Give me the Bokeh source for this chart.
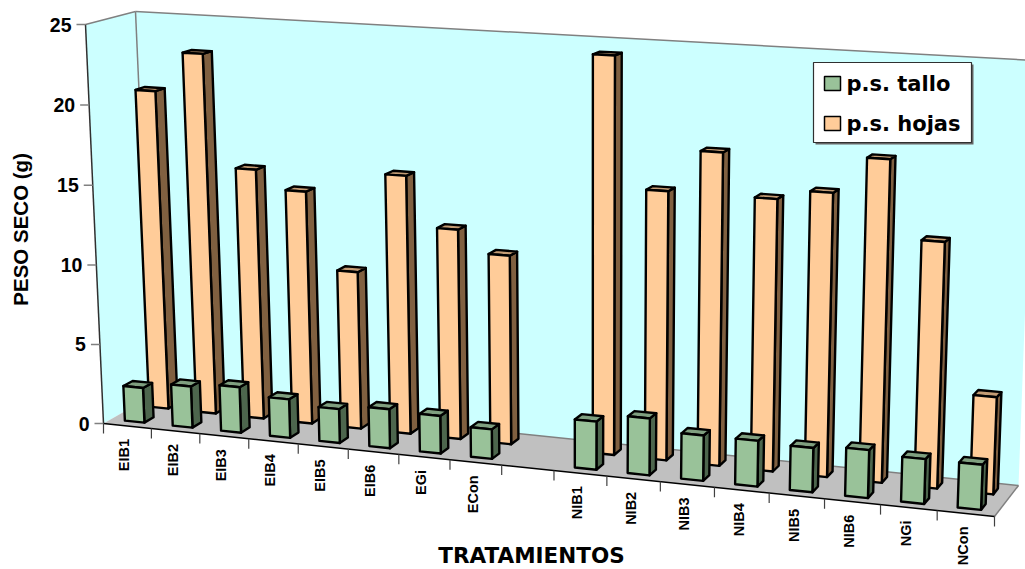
from bokeh.plotting import figure
from bokeh.models import Range1d, ColumnDataSource
from bokeh.core.properties import value
from bokeh.embed import file_html
from bokeh.resources import INLINE

categories = ["EIB1","EIB2","EIB3","EIB4","EIB5","EIB6","EGi","ECon","",
              "NIB1","NIB2","NIB3","NIB4","NIB5","NIB6","NGi","NCon"]
tallo = [2.2,2.6,2.85,2.4,2.1,2.4,2.3,1.8,None,2.9,3.4,2.7,2.7,2.6,2.8,2.6,2.6]
hojas = [20.35,22.9,15.8,14.65,9.85,16.1,13.0,11.65,None,24.25,16.3,18.85,16.3,16.9,19.1,14.5,5.7]
y_ticks = [0,5,10,15,20,25]
series_names = ["p.s. tallo","p.s. hojas"]

# projection of the 3-D box on the screen
FBL,FBR,BBL,BBR = (103,423),(994,516),(152,395),(1018,485)
FTL,FTR,BTL,BTR = (85,24),(1010,74),(135,11),(1034,60)
HX, HZ = 0.909, 0.988
N = len(categories); VMAX = 25.0
def proj(c, depth, v):
    t = c/N; t = t*HX/((1-t)+t*HX)
    z = v/VMAX; z = z*HZ/((1-z)+z*HZ)
    out=[]
    for i in (0,1):
        fb = FBL[i]+(FBR[i]-FBL[i])*t; bb = BBL[i]+(BBR[i]-BBL[i])*t
        ft = FTL[i]+(FTR[i]-FTL[i])*t; bt = BTL[i]+(BTR[i]-BTL[i])*t
        b = fb+(bb-fb)*depth; u = ft+(bt-ft)*depth
        out.append(b+(u-b)*z)
    return tuple(out)

p = figure(width=1025, height=569, x_range=Range1d(0,1025), y_range=Range1d(569,0),
           output_backend="svg", toolbar_location=None, min_border=0,
           outline_line_color=None, background_fill_color="white")
p.axis.visible=False; p.grid.visible=False

def poly(pts, fill, line=None, lw=1.0):
    p.patch([q[0] for q in pts],[q[1] for q in pts],fill_color=fill,line_color=line,line_width=lw,line_join="round")
def seg(a,b,col,lw=1.0):
    p.line([a[0],b[0]],[a[1],b[1]],line_color=col,line_width=lw)

WALL="#CCFFFF"; FLOOR="#C0C0C0"; GRAY="#808080"
# walls and floor
poly([proj(0,0,0),proj(0,1,0),proj(0,1,VMAX),proj(0,0,VMAX)],WALL)
poly([proj(0,1,0),proj(N,1,0),proj(N,1,VMAX),proj(0,1,VMAX)],WALL)
poly([proj(0,0,0),proj(N,0,0),proj(N,1,0),proj(0,1,0)],FLOOR)
seg(proj(0,0,VMAX),proj(0,1,VMAX),GRAY,1.5)
seg(proj(0,1,VMAX),proj(N,1,VMAX),GRAY,1.5)
seg(proj(0,1,VMAX),proj(0,1,0),GRAY,1.5)
seg(proj(0,1,0),proj(N,1,0),GRAY,1.5)
seg(proj(N,0,0),proj(N,1,0),GRAY,1.5)
seg(proj(0,0,VMAX),proj(0,0,0),"#303030",1.5)
seg(proj(0,0,0),proj(N,0,0),"#000000",1.5)

# value ticks and labels
for v in y_ticks:
    a=proj(0,0,v)
    seg((a[0]-9,a[1]),a,GRAY,1.5)
p.text([proj(0,0,v)[0]-14 for v in y_ticks],[proj(0,0,v)[1] for v in y_ticks],
       text=[str(v) for v in y_ticks],text_font=value("Liberation Sans"),text_font_style="bold",
       text_font_size="19.5px",text_align="right",text_baseline="middle",text_color="black")
# category ticks and labels
for c in range(N+1):
    a=proj(c,0,0)
    seg(a,(a[0],a[1]+10),"#404040",1.2)
lab_x=[proj(c+0.5,0,0)[0]-3 for c in range(N)]
lab_y=[proj(c+0.5,0,0)[1]+13 for c in range(N)]
p.text(lab_x,lab_y,text=categories,angle=1.5708,text_font=value("Liberation Sans"),text_font_style="bold",
       text_font_size="14.5px",text_align="right",text_baseline="middle",text_color="black")

def bars(vals, y0, y1, face, side, top):
    for c,v in enumerate(vals):
        if v is None: continue
        a,b=c+0.29,c+0.70
        poly([proj(b,y0,0),proj(b,y1,0),proj(b,y1,v),proj(b,y0,v)],side,"black",2.4)
        poly([proj(a,y0,v),proj(b,y0,v),proj(b,y1,v),proj(a,y1,v)],top,"black",2.4)
        poly([proj(a,y0,0),proj(b,y0,0),proj(b,y0,v),proj(a,y0,v)],face,"black",2.4)

O_F,O_S,O_T="#FFCC99","#806040","#C49C74"
G_F,G_S,G_T="#99C299","#4D664D","#7F9F7F"
bars(hojas,0.655,0.845,O_F,O_S,O_T)
bars(tallo,0.155,0.345,G_F,G_S,G_T)

# legend
p.patch([815,973,973,815],[64,64,144,144],fill_color="#666666",line_color=None)
p.patch([813,971,971,813],[62,62,142,142],fill_color="white",line_color="#303030",line_width=1.2)
for (nm,col,yy) in zip(series_names,[G_F,O_F],[83,123]):
    p.patch([824,840,840,824],[yy-7,yy-7,yy+7,yy+7],fill_color=col,line_color="black",line_width=1.5)
    p.text([846],[yy],text=[nm],text_font=value("DejaVu Sans"),text_font_style="bold",
           text_font_size="21px",text_align="left",text_baseline="middle",text_color="black")
# axis titles
p.text([20],[226],text=["PESO SECO  (g)"],angle=1.5708,text_font=value("Liberation Sans"),text_font_style="bold",
       text_font_size="20.5px",text_align="center",text_baseline="middle",text_color="black")
p.text([531],[555],text=["TRATAMIENTOS"],text_font=value("DejaVu Sans"),text_font_style="bold",
       text_font_size="21.5px",text_align="center",text_baseline="middle",text_color="black")

open("out.html","w").write(file_html(p,INLINE))
